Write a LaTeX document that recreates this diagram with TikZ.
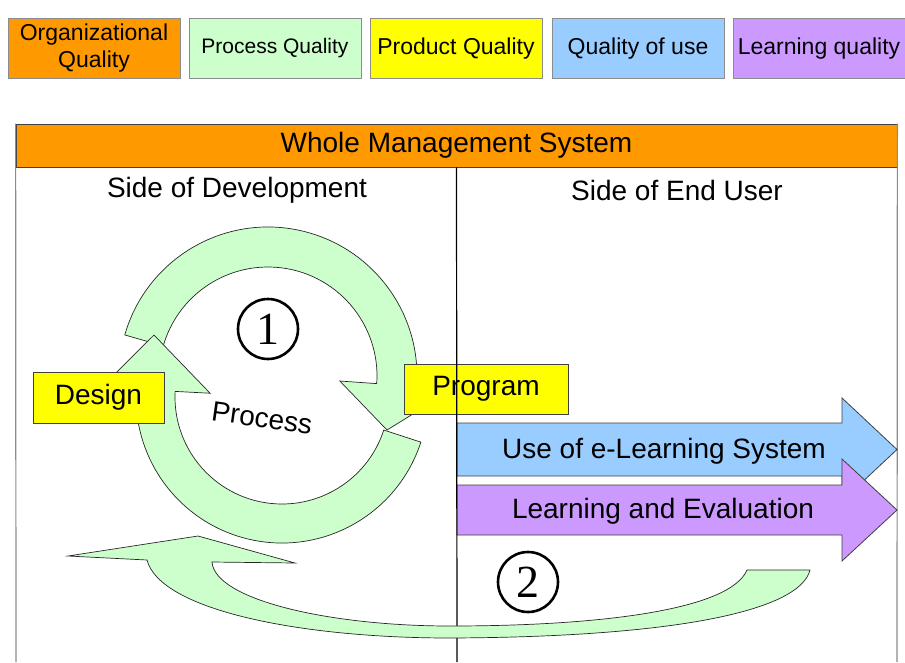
\documentclass[tikz,border=0pt]{standalone}
\usepackage{fontspec}
\setmainfont{Liberation Sans}
\newfontfamily\numfont{Liberation Serif}
\usetikzlibrary{calc}

\definecolor{orgorange}{HTML}{FF9900}
\definecolor{procgreen}{HTML}{CCFFCC}
\definecolor{prodyellow}{HTML}{FFFF00}
\definecolor{useblue}{HTML}{99CCFF}
\definecolor{learnviolet}{HTML}{CC99FF}

\def\bigfont{\fontsize{28}{30}\selectfont}
\def\keyfont{\fontsize{23}{27}\selectfont}

\begin{document}
\begin{tikzpicture}[x=1pt,y=-1pt,font=\bigfont]
    \tikzstyle{key}=[draw=black!45,line width=1pt,minimum width=172pt,minimum height=60pt,inner sep=0pt,align=center,font=\keyfont]
    \tikzstyle{frame line}=[draw=black!45,line width=1.2pt]
    \tikzstyle{band}=[draw=black!75,line width=0.8pt]
    \tikzstyle{ring}=[draw=black!85,fill=procgreen,line width=0.7pt,line join=miter]
    \tikzstyle{tag}=[draw=black!75,line width=0.8pt,fill=prodyellow,inner sep=0pt]
    \tikzstyle{num}=[circle,draw,line width=2.6pt,minimum size=60pt,inner sep=0pt,font=\numfont\fontsize{46}{46}\selectfont]

    \useasboundingbox (0,0) rectangle (905,662);

    % Draw the legend of the quality kinds
    \foreach \name/\x/\col/\txt in {org/94/orgorange/{Organizational\\Quality},
                                   proc/275/procgreen/{\fontsize{21}{25}\selectfont Process Quality},
                                   prod/456/prodyellow/{Product Quality},
                                   use/638/useblue/{Quality of use},
                                   learn/819/learnviolet/{Learning quality}}
        \node[key, fill=\col] (K-\name) at (\x,48.5) {\txt};

    % Draw the frame of the management system
    \node[band, fill=orgorange, minimum width=881pt, minimum height=43pt, inner sep=0pt] (whole) at (456.5,145.5) {Whole Management System};
    \coordinate (BL) at (16,662);
    \coordinate (BR) at (897,662);
    \coordinate (BM) at (457,662);
    \draw[frame line] (whole.north west) -- (BL);
    \draw[frame line] (whole.north east) -- (BR);

    \node (dev) at (237,190) {Side of Development};
    \node (enduser) at (677,190) {Side of End User};

    % Draw the two arrows of the end user
    \draw[band, fill=useblue] (457,423) -- (842,423) -- (842,398) -- (897,449.5) -- (842,501) -- (842,476) -- (457,476) -- cycle;
    \node (usesys) at (664,451) {Use of e-Learning System};
    \draw[band, fill=learnviolet] (457,485) -- (842,485) -- (842,459) -- (897,510) -- (842,561) -- (842,535) -- (457,535) -- cycle;
    \node (evaluate) at (663,511) {Learning and Evaluation};

    % Draw the cycle 1 of the process
    \coordinate (T) at (268,376);
    \coordinate (B) at (282,397);
    \draw[ring] ($(T)+(196:149)$) arc[start angle=196, end angle=364, radius=149]
        -- ($(T)+(4:186)$) -- (387,430) -- ($(T)+(4:72)$) -- ($(T)+(4:109)$)
        arc[start angle=364, end angle=196, radius=109] -- cycle;
    \draw[ring] ($(B)+(18:107)$) -- ($(B)+(18:146)$) arc[start angle=18, end angle=183, radius=146]
        -- ($(B)+(183:181)$) -- (154,335) -- ($(B)+(183:72)$) -- ($(B)+(183:107)$)
        arc[start angle=183, end angle=18, radius=107] -- cycle;
    \node[rotate=-8] (process) at (262,418) {Process};
    \node[num] (one) at (268,329) {1};

    \node[tag, minimum width=131pt, minimum height=51pt] (design) at (98.5,397.5) {Design};
    \node[tag, minimum width=164pt, minimum height=50pt] (program) at (486,389) {Program};

    % Divide the two sides
    \draw[line width=1.2pt] (whole.south) -- (BM);

    % Draw the cycle 2 back to the development
    \draw[ring] (747,570) -- (810,570)
        .. controls (800,610) and (680,637) .. (450,638)
        .. controls (300,638) and (160,610) .. (147,560)
        -- (68,556) -- (198,536) -- (295,563) -- (212,562)
        .. controls (215,600) and (330,626) .. (450,626)
        .. controls (600,626) and (730,610) .. (747,570) -- cycle;
    \node[num] (two) at (528,582) {2};
\end{tikzpicture}
\end{document}
